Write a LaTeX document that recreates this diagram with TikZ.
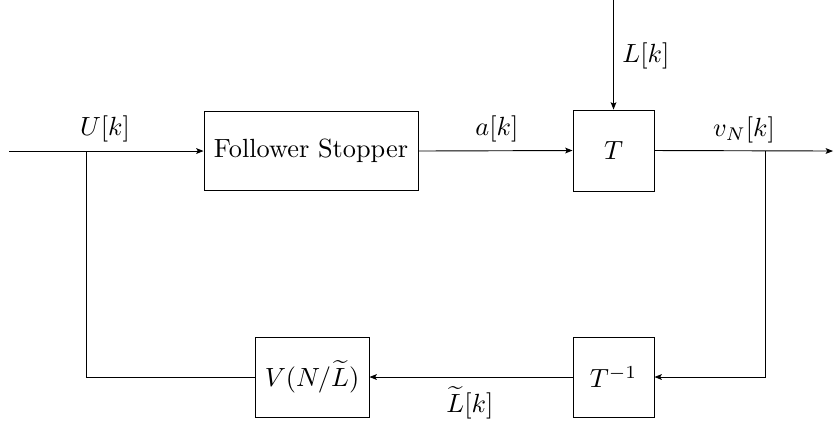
\documentclass[tikz,border=0pt]{standalone}
\usepackage{amsmath}
\usetikzlibrary{arrows.meta}
\begin{document}
\begin{tikzpicture}[x=0.3802pt,y=-0.3802pt,
  block/.style={draw,rectangle,inner sep=0pt},
  lbl/.style={inner sep=1pt},
  sig/.style={-{Stealth[length=2.8pt,width=2.2pt,inset=0.6pt]}},
  line width=0.35pt]
\useasboundingbox (0,0) rectangle (835,423);
% blocks
\node[block,minimum width=214*0.3802pt,minimum height=79*0.3802pt] (fs) at (311,151) {Follower Stopper};
\node[block,minimum width=81*0.3802pt,minimum height=81*0.3802pt] (T) at (613.5,150.5) {$T$};
\node[block,minimum width=81*0.3802pt,minimum height=80*0.3802pt] (Ti) at (613.5,377) {$T^{-1}$};
\node[block,minimum width=114*0.3802pt,minimum height=80*0.3802pt] (V) at (312,377) {$V(N/\widetilde{L})$};
% free ends and junctions
\coordinate (in) at (9,151);
\coordinate (jin) at (86,151);
\coordinate (top) at (613.5,0);
\coordinate (out) at (833,151);
\coordinate (jout) at (765,151);
% signal labels
\node[lbl] (lu) at (105,129) {$U[k]$};
\node[lbl] (la) at (497,129) {$a[k]$};
\node[lbl] (ll) at (646,56) {$L[k]$};
\node[lbl] (lv) at (744,130) {$v_N[k]$};
\node[lbl] (lt) at (470,403) {$\widetilde{L}[k]$};
% connectors
\draw[sig] (in) -- (fs.west);
\draw[sig] (fs.east) -- (T.west);
\draw[sig] (top) -- (T.north);
\draw[sig] (T.east) -- (out);
\draw[sig] (jout) |- (Ti.east);
\draw[sig] (Ti.west) -- (V.east);
\draw (V.west) -| (jin);
\end{tikzpicture}
\end{document}
